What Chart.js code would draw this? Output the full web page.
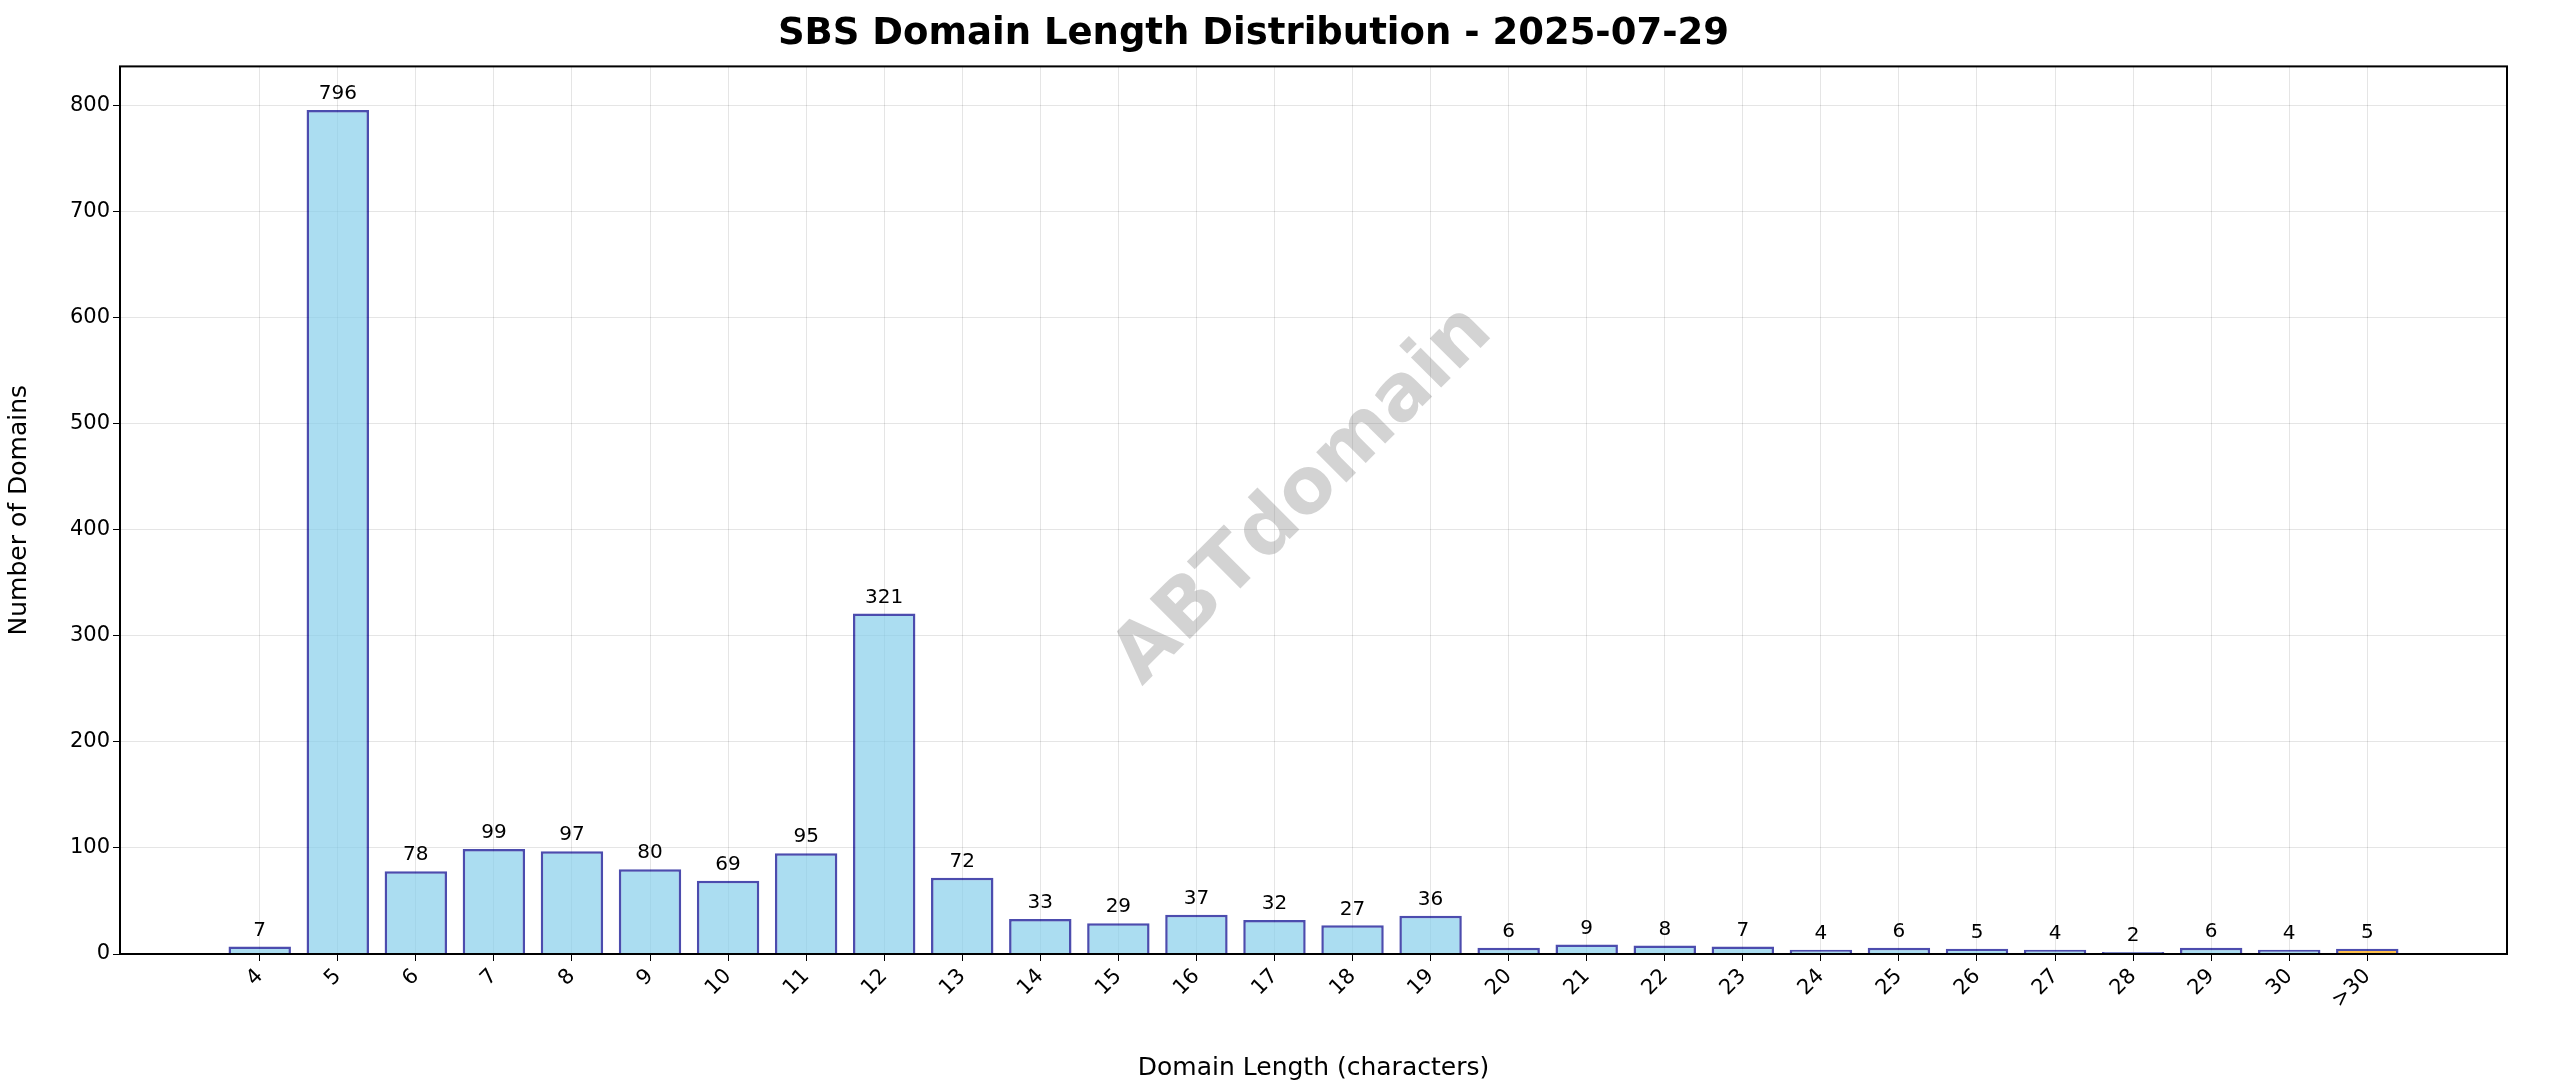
<!DOCTYPE html>
<html><head><meta charset="utf-8">
<script src="https://cdn.jsdelivr.net/npm/chart.js@4"></script>
<style>html,body{margin:0;background:#fff}#wrap{width:2560px;height:1087px}</style>
</head><body><div id="wrap"><canvas id="c"></canvas></div>
<script>
const labels = ['4','5','6','7','8','9','10','11','12','13','14','15','16','17','18','19','20','21','22','23','24','25','26','27','28','29','30','>30'];
const counts = [7,796,78,99,97,80,69,95,321,72,33,29,37,32,27,36,6,9,8,7,4,6,5,4,2,6,4,5];
const yTicks = [0,100,200,300,400,500,600,700,800];

const fnt = 'DejaVu Sans';
const fills = labels.map(l => l === '>30' ? 'rgba(255,165,0,0.7)' : 'rgba(135,206,235,0.7)');

const extras = {
  id: 'extras',
  beforeDraw(ch) {
    const ctx = ch.ctx;
    ctx.save();
    ctx.fillStyle = '#fff'; ctx.fillRect(0, 0, ch.width, ch.height);
    ctx.restore();
  },
  afterDatasetsDraw(ch) {
    const ctx = ch.ctx, a = ch.chartArea;
    ctx.save();
    ctx.font = '20px ' + fnt; ctx.fillStyle = '#000';
    ctx.textAlign = 'center'; ctx.textBaseline = 'bottom';
    ch.getDatasetMeta(0).data.forEach((b, i) => ctx.fillText(counts[i], b.x, b.y - 6));
    // watermark
    ctx.translate(1304, 496); ctx.rotate(-Math.PI / 4);
    ctx.font = 'bold 78px ' + fnt; ctx.fillStyle = 'rgba(128,128,128,0.35)';
    ctx.textBaseline = 'middle'; ctx.fillText('ABTdomain', 0, 0);
    ctx.restore();
    ctx.save();
    ctx.strokeStyle = '#000'; ctx.lineWidth = 2;
    ctx.strokeRect(a.left, a.top, a.right - a.left, a.bottom - a.top);
    ctx.restore();
  }
};

new Chart(document.getElementById('c'), {
  type: 'bar',
  data: {
    datasets: [{
      data: counts.map((v, i) => ({x: i, y: v})),
      backgroundColor: fills,
      borderColor: 'rgba(0,0,139,0.7)',
      borderWidth: 2.5,
      barPercentage: 0.8,
      categoryPercentage: 1
    }]
  },
  options: {
    responsive: true, maintainAspectRatio: false, animation: false,
    layout: {padding: {right: 53, top: 0}},
    plugins: {
      legend: {display: false}, tooltip: {enabled: false},
      title: {display: true, text: 'SBS Domain Length Distribution - 2025-07-29',
        color: '#000', font: {family: fnt, size: 37, weight: 'bold'}, padding: {top: 12, bottom: 10}}
    },
    scales: {
      x: {
        type: 'linear', min: -1.79, max: 28.79, offset: false,
        afterBuildTicks: s => { s.ticks = labels.map((l, i) => ({value: i})); },
        afterFit: s => { s.height = 133; },
        ticks: {callback: v => labels[v], maxRotation: 45, minRotation: 45, autoSkip: false,
          color: '#000', font: {family: fnt, size: 21}},
        grid: {offset: false, color: 'rgba(0,0,0,0.1)', drawTicks: true, tickColor: '#000', tickLength: 7},
        border: {display: false},
        title: {display: true, text: 'Domain Length (characters)', color: '#000',
          font: {family: fnt, size: 25}, padding: {top: 4}}
      },
      y: {
        min: 0, max: 837,
        afterBuildTicks: s => { s.ticks = yTicks.map(v => ({value: v})); },
        afterFit: s => { s.width = 120; },
        ticks: {color: '#000', font: {family: fnt, size: 21}},
        grid: {color: 'rgba(0,0,0,0.1)', tickColor: '#000', tickLength: 7},
        border: {display: false},
        title: {display: true, text: 'Number of Domains', color: '#000',
          font: {family: fnt, size: 25}, padding: {bottom: 4}}
      }
    }
  },
  plugins: [extras]
});
</script></body></html>
